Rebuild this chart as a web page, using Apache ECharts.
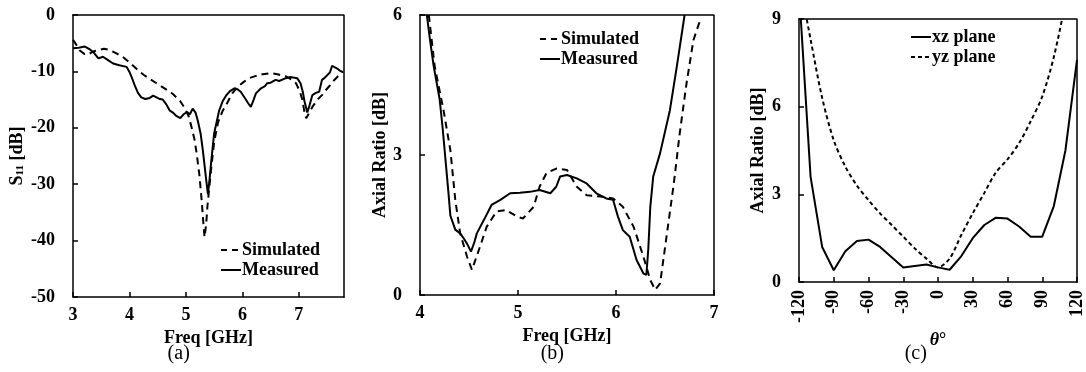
<!DOCTYPE html>
<html><head><meta charset="utf-8">
<script src="https://cdn.jsdelivr.net/npm/echarts@6/dist/echarts.min.js"></script>
<style>html,body{margin:0;padding:0;background:#fff}#c{width:1086px;height:372px}</style>
</head><body><div id="c"></div>
<script>
// ---------- Panel (a): S11 ----------
const aMeasFreq = [3.00,3.10,3.21,3.30,3.36,3.45,3.53,3.62,3.71,3.82,3.95,4.00,4.05,4.09,4.15,4.21,4.28,4.36,4.42,4.48,4.54,4.59,4.65,4.71,4.77,4.83,4.90,4.96,5.02,5.07,5.12,5.17,5.21,5.26,5.30,5.36,5.39,5.42,5.45,5.50,5.59,5.65,5.71,5.78,5.86,5.92,5.97,6.05,6.10,6.15,6.20,6.24,6.33,6.40,6.44,6.50,6.59,6.65,6.77,6.85,6.97,7.03,7.07,7.10,7.15,7.19,7.24,7.30,7.36,7.41,7.45,7.50,7.55,7.59,7.64,7.68,7.73,7.78];
const aMeasS11 = [-5.9,-5.8,-5.6,-6.1,-6.6,-7.7,-7.4,-8.0,-8.6,-8.9,-9.2,-10.1,-11.3,-12.4,-13.8,-14.6,-14.9,-14.7,-14.3,-14.6,-14.9,-15.0,-15.8,-16.9,-17.3,-17.9,-18.3,-17.6,-17.2,-17.6,-16.6,-17.3,-18.7,-21.0,-24.0,-29.3,-31.8,-29.0,-25.8,-21.0,-16.9,-15.3,-14.3,-13.5,-13.0,-13.2,-13.6,-14.8,-15.6,-16.3,-15.0,-13.9,-13.0,-12.6,-12.1,-12.0,-11.5,-11.7,-11.2,-11.0,-11.2,-12.1,-13.6,-15.3,-17.3,-16.0,-14.2,-13.8,-13.6,-11.5,-11.2,-10.7,-10.2,-9.0,-9.3,-9.5,-9.9,-10.1];
const aSimFreq = [3.00,3.06,3.12,3.20,3.27,3.35,3.45,3.55,3.65,3.77,3.89,4.00,4.12,4.25,4.37,4.48,4.62,4.77,4.90,4.98,5.05,5.10,5.15,5.19,5.24,5.28,5.31,5.33,5.36,5.38,5.42,5.45,5.50,5.57,5.65,5.71,5.82,5.92,6.02,6.12,6.24,6.36,6.50,6.62,6.77,6.88,6.95,7.02,7.06,7.10,7.13,7.17,7.24,7.33,7.41,7.48,7.55,7.62,7.70,7.78];
const aSimS11 = [-4.4,-5.3,-6.3,-6.9,-7.0,-6.5,-6.2,-6.0,-6.2,-6.8,-7.5,-8.4,-9.5,-10.6,-11.4,-12.1,-13.0,-14.0,-15.3,-16.5,-18.0,-19.9,-22.0,-24.5,-28.5,-33.0,-37.0,-39.4,-37.0,-34.0,-30.0,-27.0,-22.5,-19.0,-17.0,-16.0,-13.9,-12.7,-11.9,-11.2,-10.8,-10.5,-10.3,-10.5,-10.9,-11.5,-12.1,-13.6,-15.0,-17.2,-18.3,-17.6,-16.3,-15.0,-14.2,-13.3,-12.5,-11.6,-10.8,-10.0];

// ---------- Panel (b): Axial ratio vs frequency ----------
const bMeasFreq = [4.07,4.10,4.14,4.20,4.23,4.26,4.29,4.31,4.36,4.41,4.45,4.48,4.52,4.55,4.58,4.65,4.73,4.82,4.92,5.02,5.12,5.22,5.33,5.39,5.43,5.50,5.60,5.70,5.80,5.90,5.97,6.02,6.07,6.14,6.21,6.28,6.31,6.33,6.35,6.38,6.45,6.55,6.62,6.70];
const bMeasAR = [6.0,5.5,4.9,4.2,3.6,2.9,2.2,1.7,1.4,1.32,1.2,1.1,0.93,1.1,1.32,1.6,1.93,2.04,2.18,2.19,2.21,2.25,2.18,2.32,2.54,2.57,2.5,2.39,2.18,2.07,2.04,1.68,1.39,1.25,0.75,0.46,0.43,1.0,1.89,2.54,3.04,3.96,4.89,6.0];
const bSimFreq = [4.09,4.15,4.24,4.31,4.36,4.41,4.48,4.53,4.60,4.68,4.78,4.88,4.99,5.05,5.16,5.22,5.29,5.39,5.50,5.60,5.70,5.84,5.97,6.07,6.18,6.28,6.35,6.40,6.45,6.52,6.59,6.65,6.72,6.79,6.86];
const bSimAR = [6.0,4.9,3.96,3.1,2.04,1.32,0.82,0.54,0.96,1.46,1.79,1.82,1.68,1.64,1.89,2.32,2.61,2.71,2.68,2.32,2.14,2.11,2.07,1.89,1.46,0.82,0.32,0.11,0.25,1.32,2.39,3.46,4.54,5.46,5.9];

// ---------- Panel (c): Axial ratio vs theta ----------
const cTheta = [-120,-110,-100,-90,-80,-70,-60,-50,-40,-30,-20,-10,0,10,20,30,40,50,60,70,80,90,100,110,120];
const cXZ = [10.0,3.6,1.2,0.4,1.05,1.4,1.45,1.2,0.85,0.5,0.55,0.6,0.5,0.42,0.88,1.5,1.95,2.2,2.17,1.9,1.55,1.55,2.6,4.5,7.6];
const cYZ = [10.4,8.3,6.3,4.85,3.95,3.3,2.8,2.35,1.95,1.55,1.15,0.8,0.5,0.8,1.6,2.35,3.05,3.75,4.2,4.75,5.5,6.35,7.7,9.6,12.0];

const panelLabels = ['(a)', '(b)', '(c)'];
// axis extents [xmin, xmax, ymin, ymax] per panel
const extents = [[3, 7.8, -50, 0], [4, 7, 0, 6], [-120, 120, 0, 9]];

const FONT = '"Liberation Serif", "Times New Roman", serif';
const zip = (xs, ys) => xs.map((x, i) => [x, ys[i]]);
const lbl = { fontFamily: FONT, fontWeight: 'bold', fontSize: 18, color: '#000' };
const tick = { show: true, inside: true, length: 5, lineStyle: { color: '#000', width: 1.5 } };
const aline = { show: true, onZero: false, lineStyle: { color: '#000', width: 1.5 } };

function xAx(idx, interval, name, extra) {
  return Object.assign({
    type: 'value', gridIndex: idx, min: extents[idx][0], max: extents[idx][1], interval, position: 'bottom',
    name, nameLocation: 'middle', nameGap: 24, nameTextStyle: Object.assign({}, lbl),
    axisLine: aline, axisTick: tick, splitLine: { show: false }, z: 10,
    axisLabel: Object.assign({ margin: 9, showMaxLabel: true }, lbl)
  }, extra || {});
}
function yAx(idx, interval, name, gap, extra) {
  return Object.assign({
    type: 'value', gridIndex: idx, min: extents[idx][2], max: extents[idx][3], interval, position: 'left',
    name, nameLocation: 'middle', nameRotate: 90, nameGap: gap, nameTextStyle: Object.assign({}, lbl),
    axisLine: aline, axisTick: tick, splitLine: { show: false }, z: 10,
    axisLabel: Object.assign({ margin: 18 }, lbl)
  }, extra || {});
}
const legendStyle = (left, top, items) => ({
  left, top, orient: 'vertical', itemWidth: 20, itemHeight: 10, itemGap: 2,
  itemStyle: { opacity: 0 },
  textStyle: Object.assign({}, lbl, { padding: [0, 0, 0, -4] }),
  data: items.map(([name, dash]) => ({ name, lineStyle: { color: '#000', width: 2, type: dash } })),
  selectedMode: false
});
function ser(name, xi, data, dashed, smooth) {
  return {
    name, type: 'line', xAxisIndex: xi, yAxisIndex: xi, data, symbol: 'none', smooth: smooth || false,
    clip: true, animation: false,
    lineStyle: { color: '#000', width: 2, type: dashed || 'solid' },
    itemStyle: { color: '#000' }
  };
}
// top and right edges of each plot box, placed through the panel's own axes at its extents
function frameSeries(i) {
  const e = extents[i];
  return {
    name: 'frame' + i, type: 'line', xAxisIndex: i, yAxisIndex: i, symbol: 'none', clip: false,
    silent: true, animation: false, z: 5, legendHoverLink: false, tooltip: { show: false },
    data: [[e[0], e[3]], [e[1], e[3]], [e[1], e[2]]],
    lineStyle: { color: '#000', width: 1.5, type: 'solid', cap: 'square' },
    itemStyle: { color: '#000' }
  };
}

const chart = echarts.init(document.getElementById('c'));
chart.setOption({
  animation: false,
  grid: [
    { left: 73, top: 15, width: 271, height: 282 },
    { left: 420, top: 15, width: 294, height: 280 },
    { left: 799, top: 19, width: 280, height: 263 }
  ],
  xAxis: [
    xAx(0, 1, 'Freq [GHz]', { axisLabel: Object.assign({ margin: 9, showMaxLabel: false }, lbl) }),
    xAx(1, 1, 'Freq [GHz]', { nameGap: 22 }),
    xAx(2, 30, '{i|θ}{n|°}', {
      nameGap: 42,
      nameTextStyle: { rich: { i: Object.assign({}, lbl, { fontStyle: 'italic' }), n: Object.assign({}, lbl) } },
      axisLabel: Object.assign({ margin: 8, rotate: 90 }, lbl)
    })
  ],
  yAxis: [
    yAx(0, 10, '{b|S}{s|11}{b| [dB]}', 47, {
      nameTextStyle: { rich: { b: Object.assign({}, lbl), s: Object.assign({}, lbl, { fontSize: 11, verticalAlign: 'bottom' }) } }
    }),
    yAx(1, 3, 'Axial Ratio [dB]', 30),
    yAx(2, 3, 'Axial Ratio [dB]', 32)
  ],
  legend: [
    legendStyle(215, 236, [['Simulated', [6, 5]], ['Measured', 'solid']]),
    legendStyle(534, 25, [['Simulated', [6, 5]], ['Measured', 'solid']]),
    legendStyle(905, 23, [['xz plane', 'solid'], ['yz plane', [4, 3]]])
  ],
  series: [
    ser('Simulated', 0, zip(aSimFreq, aSimS11), [7, 5]),
    ser('Measured', 0, zip(aMeasFreq, aMeasS11)),
    ser('Simulated', 1, zip(bSimFreq, bSimAR), [7, 5]),
    ser('Measured', 1, zip(bMeasFreq, bMeasAR)),
    ser('xz plane', 2, zip(cTheta, cXZ)),
    ser('yz plane', 2, zip(cTheta, cYZ), [4, 3], 0.3),
    frameSeries(0), frameSeries(1), frameSeries(2)
  ]
});

// panel captions, positioned through each panel's x axis
const captions = panelLabels.map((t, i) => {
  const e = extents[i];
  const mid = chart.convertToPixel({ xAxisIndex: i, yAxisIndex: i }, [e[0] + (e[1] - e[0]) * [0.39, 0.45, 0.42][i], e[2]]);
  return {
    type: 'text', x: mid[0], y: 354,
    style: { text: t, font: '20px ' + FONT, fill: '#000', align: 'center', verticalAlign: 'middle' }
  };
});
chart.setOption({ graphic: captions });
</script></body></html>
